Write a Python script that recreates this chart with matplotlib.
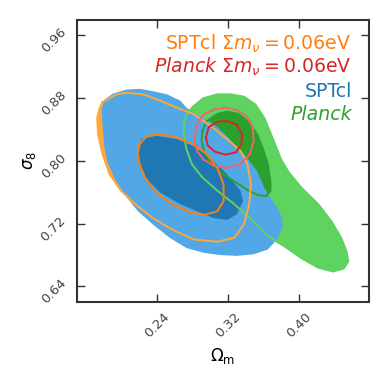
import matplotlib
matplotlib.use("Agg")
import matplotlib.pyplot as plt
import matplotlib.transforms as mtransforms

# contour outlines (Omega_m, sigma_8)

# SPTcl, 95% and 68% regions (filled blue)
spt95_om = [0.180, 0.190, 0.205, 0.220, 0.235, 0.251, 0.266, 0.273, 0.281, 0.292, 0.304, 0.315,
            0.323, 0.338, 0.353, 0.361, 0.368, 0.376, 0.381, 0.382, 0.379, 0.374, 0.365, 0.349,
            0.330, 0.311, 0.292, 0.273, 0.254, 0.235, 0.218, 0.203, 0.192, 0.184, 0.180, 0.178, 0.177]
spt95_s8 = [0.878, 0.886, 0.891, 0.892, 0.889, 0.885, 0.877, 0.868, 0.862, 0.855, 0.847, 0.836,
            0.826, 0.809, 0.787, 0.766, 0.753, 0.740, 0.728, 0.717, 0.708, 0.698, 0.687, 0.681,
            0.679, 0.680, 0.683, 0.689, 0.702, 0.719, 0.736, 0.757, 0.777, 0.797, 0.819, 0.845, 0.866]
spt68_om = [0.222, 0.239, 0.262, 0.281, 0.300, 0.319, 0.334, 0.337, 0.330, 0.319, 0.304, 0.289,
            0.266, 0.243, 0.228, 0.220, 0.219]
spt68_s8 = [0.828, 0.832, 0.828, 0.819, 0.804, 0.783, 0.762, 0.749, 0.732, 0.725, 0.727, 0.734,
            0.745, 0.760, 0.777, 0.796, 0.813]

# SPTcl with sum m_nu = 0.06 eV (orange lines)
sptnu95_om = [0.178, 0.194, 0.205, 0.224, 0.243, 0.262, 0.281, 0.300, 0.319, 0.334, 0.342, 0.346,
              0.344, 0.338, 0.327, 0.308, 0.281, 0.256, 0.234, 0.215, 0.199, 0.186, 0.178, 0.173,
              0.172, 0.175]
sptnu95_s8 = [0.875, 0.885, 0.887, 0.885, 0.877, 0.868, 0.860, 0.845, 0.828, 0.813, 0.796, 0.770,
              0.745, 0.719, 0.702, 0.697, 0.700, 0.713, 0.728, 0.745, 0.762, 0.783, 0.809, 0.834,
              0.855, 0.868]
sptnu68_om = [0.220, 0.228, 0.243, 0.262, 0.281, 0.296, 0.308, 0.315, 0.315, 0.308, 0.292, 0.273,
              0.254, 0.237, 0.226, 0.220, 0.218]
sptnu68_s8 = [0.821, 0.832, 0.834, 0.830, 0.821, 0.809, 0.791, 0.770, 0.749, 0.736, 0.731, 0.736,
              0.747, 0.762, 0.779, 0.796, 0.809]

# Planck (filled green)
pl95_om = [0.270, 0.273, 0.281, 0.292, 0.308, 0.323, 0.338, 0.351, 0.361, 0.368, 0.374, 0.380,
           0.389, 0.403, 0.422, 0.437, 0.448, 0.454, 0.456, 0.451, 0.439, 0.422, 0.403, 0.384,
           0.368, 0.357, 0.344, 0.327, 0.308, 0.291, 0.279, 0.273, 0.270]
pl95_s8 = [0.847, 0.860, 0.870, 0.880, 0.885, 0.885, 0.882, 0.872, 0.855, 0.836, 0.819, 0.802,
           0.785, 0.766, 0.745, 0.723, 0.702, 0.685, 0.672, 0.663, 0.659, 0.664, 0.676, 0.691,
           0.702, 0.713, 0.728, 0.745, 0.762, 0.779, 0.796, 0.815, 0.834]
pl68_om = [0.291, 0.296, 0.308, 0.319, 0.332, 0.344, 0.353, 0.359, 0.365, 0.368, 0.368, 0.363,
           0.353, 0.342, 0.327, 0.311, 0.300, 0.293, 0.290]
pl68_s8 = [0.838, 0.851, 0.860, 0.863, 0.860, 0.849, 0.834, 0.817, 0.796, 0.774, 0.762, 0.755,
           0.757, 0.763, 0.774, 0.786, 0.798, 0.811, 0.826]

# Planck with sum m_nu = 0.06 eV (red lines)
plnu95_om = [0.282, 0.284, 0.292, 0.305, 0.317, 0.330, 0.342, 0.348, 0.349, 0.345, 0.334, 0.319,
             0.304, 0.292, 0.285]
plnu95_s8 = [0.826, 0.845, 0.859, 0.866, 0.868, 0.865, 0.856, 0.843, 0.826, 0.809, 0.796, 0.791,
             0.794, 0.802, 0.813]
plnu68_om = [0.295, 0.298, 0.308, 0.319, 0.330, 0.336, 0.335, 0.329, 0.317, 0.305, 0.297]
plnu68_s8 = [0.830, 0.843, 0.850, 0.851, 0.846, 0.834, 0.821, 0.811, 0.808, 0.812, 0.820]

xticks = [0.24, 0.32, 0.40]
yticks = [0.64, 0.72, 0.80, 0.88, 0.96]

c_blue_lt, c_blue = "#52a8e6", "#1f77b4"
c_green_lt, c_green = "#5fd35f", "#2ca02c"
c_orange_lt, c_orange = "#ffa73a", "#ff7f0e"
c_red_lt, c_red = "#f06565", "#d62728"


def closed(xs, ys):
    return list(xs) + [xs[0]], list(ys) + [ys[0]]


fig = plt.figure(figsize=(3.88, 3.81), dpi=100)
ax = fig.add_axes([0.198, 0.207, 0.752, 0.741])

# fills, back to front
ax.fill(sptnu95_om, sptnu95_s8, color=c_orange_lt, lw=0, zorder=1)
ax.fill(pl95_om, pl95_s8, color=c_green_lt, lw=0, zorder=2)
ax.fill(pl68_om, pl68_s8, color=c_green, lw=0, zorder=3)
ax.fill(spt95_om, spt95_s8, color=c_blue_lt, lw=0, zorder=4)
ax.fill(spt68_om, spt68_s8, color=c_blue, lw=0, zorder=5)

# outlines on top
lw = 1.4
ax.plot(*closed(pl95_om, pl95_s8), color=c_green_lt, lw=lw, zorder=6)
ax.plot(*closed(pl68_om, pl68_s8), color=c_green, lw=lw, zorder=6)
ax.plot(*closed(sptnu95_om, sptnu95_s8), color=c_orange_lt, lw=lw, zorder=7)
ax.plot(*closed(sptnu68_om, sptnu68_s8), color=c_orange, lw=lw, zorder=7)
ax.plot(*closed(plnu95_om, plnu95_s8), color=c_red_lt, lw=lw, zorder=8)
ax.plot(*closed(plnu68_om, plnu68_s8), color=c_red, lw=lw, zorder=8)

ax.set_xlim(0.149, 0.479)
ax.set_ylim(0.62, 0.98)
ax.set_xticks(xticks)
ax.set_yticks(yticks)
ax.set_xticklabels([f"{v:.2f}" for v in xticks], rotation=45, ha="center")
ax.set_yticklabels([f"{v:.2f}" for v in yticks], rotation=45, va="center")
ax.tick_params(direction="in", length=6, width=1, color="#333333", labelsize=9.5,
               labelcolor="#444444", top=True, right=True, pad=6)
shift = mtransforms.ScaledTranslation(0, -5 / 100, fig.dpi_scale_trans)
for lab in ax.get_yticklabels():
    lab.set_transform(lab.get_transform() + shift)
for s in ax.spines.values():
    s.set_linewidth(1.5)
    s.set_color("#333333")

ax.set_xlabel(r"$\Omega_{\rm m}$", fontsize=12, labelpad=4)
ax.set_ylabel(r"$\sigma_8$", fontsize=12, labelpad=0)

fs = 13.6
tx = 0.942
ax.text(tx, 0.894, r"SPTcl $\Sigma m_\nu = 0.06$eV", color=c_orange, fontsize=fs,
        ha="right", va="baseline", transform=ax.transAxes, zorder=10)
ax.text(tx, 0.812, r"$\mathit{Planck}\ \Sigma m_\nu = 0.06$eV", color=c_red, fontsize=fs,
        ha="right", va="baseline", transform=ax.transAxes, zorder=10)
ax.text(tx, 0.727, "SPTcl", color=c_blue, fontsize=fs,
        ha="right", va="baseline", transform=ax.transAxes, zorder=10)
ax.text(tx, 0.645, "Planck", color=c_green, fontsize=fs, fontstyle="italic",
        ha="right", va="baseline", transform=ax.transAxes, zorder=10)

fig.savefig("out.png", dpi=100)
